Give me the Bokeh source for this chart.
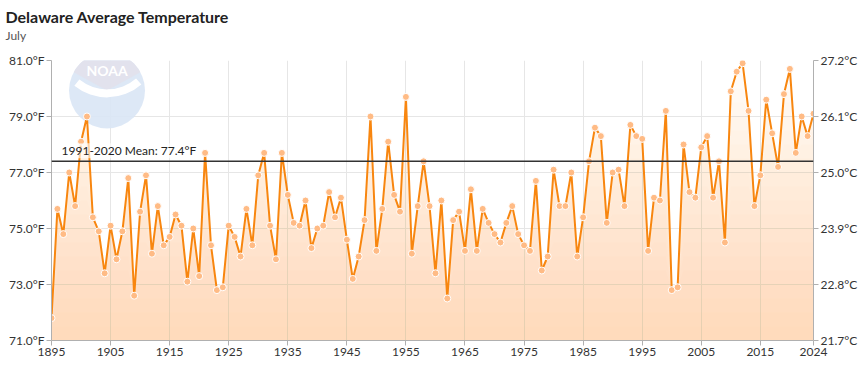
import numpy as np
from bokeh.plotting import figure
from bokeh.models import (Range1d, FixedTicker, PrintfTickFormatter, CustomJSTickFormatter,
                          LinearAxis, Span, Label, Title, ColumnDataSource)
from bokeh.embed import file_html
from bokeh.resources import INLINE

# ---- data -------------------------------------------------------------
years = list(range(1895, 2025))
temps_f = [
    71.8, 75.7, 74.8, 77.0, 75.8, 78.1, 79.0, 75.4, 74.9, 73.4,   # 1895-1904
    75.1, 73.9, 74.9, 76.8, 72.6, 75.6, 76.9, 74.1, 75.8, 74.4,   # 1905-1914
    74.7, 75.5, 75.1, 73.1, 75.0, 73.3, 77.7, 74.4, 72.8, 72.9,   # 1915-1924
    75.1, 74.7, 74.0, 75.7, 74.4, 76.9, 77.7, 75.1, 73.9, 77.7,   # 1925-1934
    76.2, 75.2, 75.1, 76.0, 74.3, 75.0, 75.1, 76.3, 75.4, 76.1,   # 1935-1944
    74.6, 73.2, 74.0, 75.3, 79.0, 74.2, 75.7, 78.1, 76.2, 75.6,   # 1945-1954
    79.7, 74.1, 75.8, 77.4, 75.8, 73.4, 76.0, 72.5, 75.3, 75.6,   # 1955-1964
    74.2, 76.4, 74.2, 75.7, 75.2, 74.8, 74.5, 75.2, 75.8, 74.8,   # 1965-1974
    74.4, 74.2, 76.7, 73.5, 74.0, 77.1, 75.8, 75.8, 77.0, 74.0,   # 1975-1984
    75.4, 77.4, 78.6, 78.3, 75.2, 77.0, 77.1, 75.8, 78.7, 78.3,   # 1985-1994
    78.2, 74.2, 76.1, 76.0, 79.2, 72.8, 72.9, 78.0, 76.3, 76.1,   # 1995-2004
    77.9, 78.3, 76.1, 77.4, 74.5, 79.9, 80.6, 80.9, 79.2, 75.8,   # 2005-2014
    76.9, 79.6, 78.4, 77.2, 79.8, 80.7, 77.7, 79.0, 78.3, 79.1,   # 2015-2024
]
mean_1991_2020 = 77.4
x_ticks = [1895, 1905, 1915, 1925, 1935, 1945, 1955, 1965, 1975, 1985, 1995, 2005, 2015, 2024]
y_ticks = [71, 73, 75, 77, 79, 81]
title_text = "Delaware Average Temperature"
subtitle_text = "July"
mean_label = "1991-2020 Mean: 77.4°F"

# ---- styling ----------------------------------------------------------
FONT = "Lato"
LINE_COLOR = "#f8860f"
MARKER_FILL = "#ffbb85"
FILL_COLOR = "#fcb986"
TEXT_COLOR = "#333333"
GRID_COLOR = "#e6e6e6"
AXIS_COLOR = "#b0b0b0"

Y_MIN, Y_MAX = 71, 81
FRAME_W, FRAME_H = 762, 280

p = figure(frame_width=FRAME_W, frame_height=FRAME_H, title_location=None,
           x_range=Range1d(1895, 2024), y_range=Range1d(Y_MIN, Y_MAX),
           output_backend="svg", toolbar_location=None,
           min_border_left=51, min_border_right=51, min_border_top=0, min_border_bottom=22)
p.outline_line_color = None
p.background_fill_color = "white"
p.border_fill_color = "white"

# header: stacked title panels (first added sits closest to the plot frame)
p.add_layout(Title(text=" ", text_font=FONT, text_font_size="1px", standoff=15), "above")
p.add_layout(Title(text=subtitle_text, text_font=FONT, text_font_size="12px",
                   text_font_style="normal", text_color="#555555", align="left",
                   offset=-46, standoff=0), "above")
p.add_layout(Title(text=title_text, text_font=FONT, text_font_size="16px",
                   text_font_style="bold", text_color="#222222", align="left",
                   offset=-46, standoff=0), "above")
p.add_layout(Title(text=" ", text_font=FONT, text_font_size="1px", standoff=1), "above")

# NOAA watermark (decoration)
LOGO_X, LOGO_Y = 1904.4, 79.93
LOGO_R = 38
p.circle(x=[LOGO_X], y=[LOGO_Y], radius=LOGO_R, radius_units="screen",
         fill_color="#d9e6f5", line_color=None, fill_alpha=0.9)
p.wedge(x=[LOGO_X], y=[LOGO_Y], radius=LOGO_R, radius_units="screen",
        start_angle=0.5, end_angle=np.pi - 0.5,
        fill_color="#e2e2ec", line_color=None, fill_alpha=0.95)
p.annular_wedge(x=[LOGO_X], y=[81.54], inner_radius=44, outer_radius=52,
                inner_radius_units="screen", outer_radius_units="screen",
                start_angle=-2.25, end_angle=-0.85, fill_color="white", line_color=None)
p.text(x=[LOGO_X], y=[LOGO_Y], text=["NOAA"], text_align="center", text_baseline="middle",
       y_offset=-20, text_color="white", text_font_size="14px", text_font_style="bold",
       text_font={"value": FONT})

# gradient fill via stacked translucent bands
yrs = np.array(years, dtype=float)
vals = np.array(temps_f, dtype=float)
n_layers = 20
alpha_layer = 1 - 0.55 ** (1 / n_layers)
for k in range(1, n_layers + 1):
    level = Y_MIN + (Y_MAX - Y_MIN) * k / n_layers
    p.varea(x=yrs, y1=np.full_like(vals, Y_MIN), y2=np.minimum(vals, level),
            fill_color=FILL_COLOR, fill_alpha=alpha_layer)

# grid
p.xgrid.ticker = FixedTicker(ticks=x_ticks)
p.ygrid.ticker = FixedTicker(ticks=y_ticks)
p.xgrid.grid_line_color = GRID_COLOR
p.ygrid.grid_line_color = GRID_COLOR

# mean line
p.add_layout(Span(location=mean_1991_2020, dimension="width", line_color="#333333", line_width=1.5))
p.add_layout(Label(x=1896.7, y=mean_1991_2020, text=mean_label, y_offset=3,
                   text_font=FONT, text_font_size="12px", text_color="#222222",
                   background_fill_color="white", background_fill_alpha=0.6))

# series
src = ColumnDataSource(dict(year=years, temp=temps_f))
p.line("year", "temp", source=src, line_color=LINE_COLOR, line_width=2)
p.scatter("year", "temp", source=src, size=7, fill_color=MARKER_FILL,
          line_color="white", line_width=1)

# axes
def style_axis(ax):
    ax.axis_line_color = AXIS_COLOR
    ax.major_tick_line_color = AXIS_COLOR
    ax.minor_tick_line_color = None
    ax.major_tick_in = 0
    ax.major_tick_out = 5
    ax.major_label_text_font = FONT
    ax.major_label_text_font_size = "12px"
    ax.major_label_text_color = TEXT_COLOR
    ax.major_label_standoff = 2

p.xaxis.ticker = FixedTicker(ticks=x_ticks)
style_axis(p.xaxis[0])
p.yaxis.ticker = FixedTicker(ticks=y_ticks)
p.yaxis.formatter = PrintfTickFormatter(format="%.1f°F")
style_axis(p.yaxis[0])

right = LinearAxis(ticker=FixedTicker(ticks=y_ticks),
                   formatter=CustomJSTickFormatter(code="return ((tick - 32) * 5 / 9).toFixed(1) + '°C';"))
style_axis(right)
p.add_layout(right, "right")

open("out.html", "w").write(file_html(p, INLINE))
